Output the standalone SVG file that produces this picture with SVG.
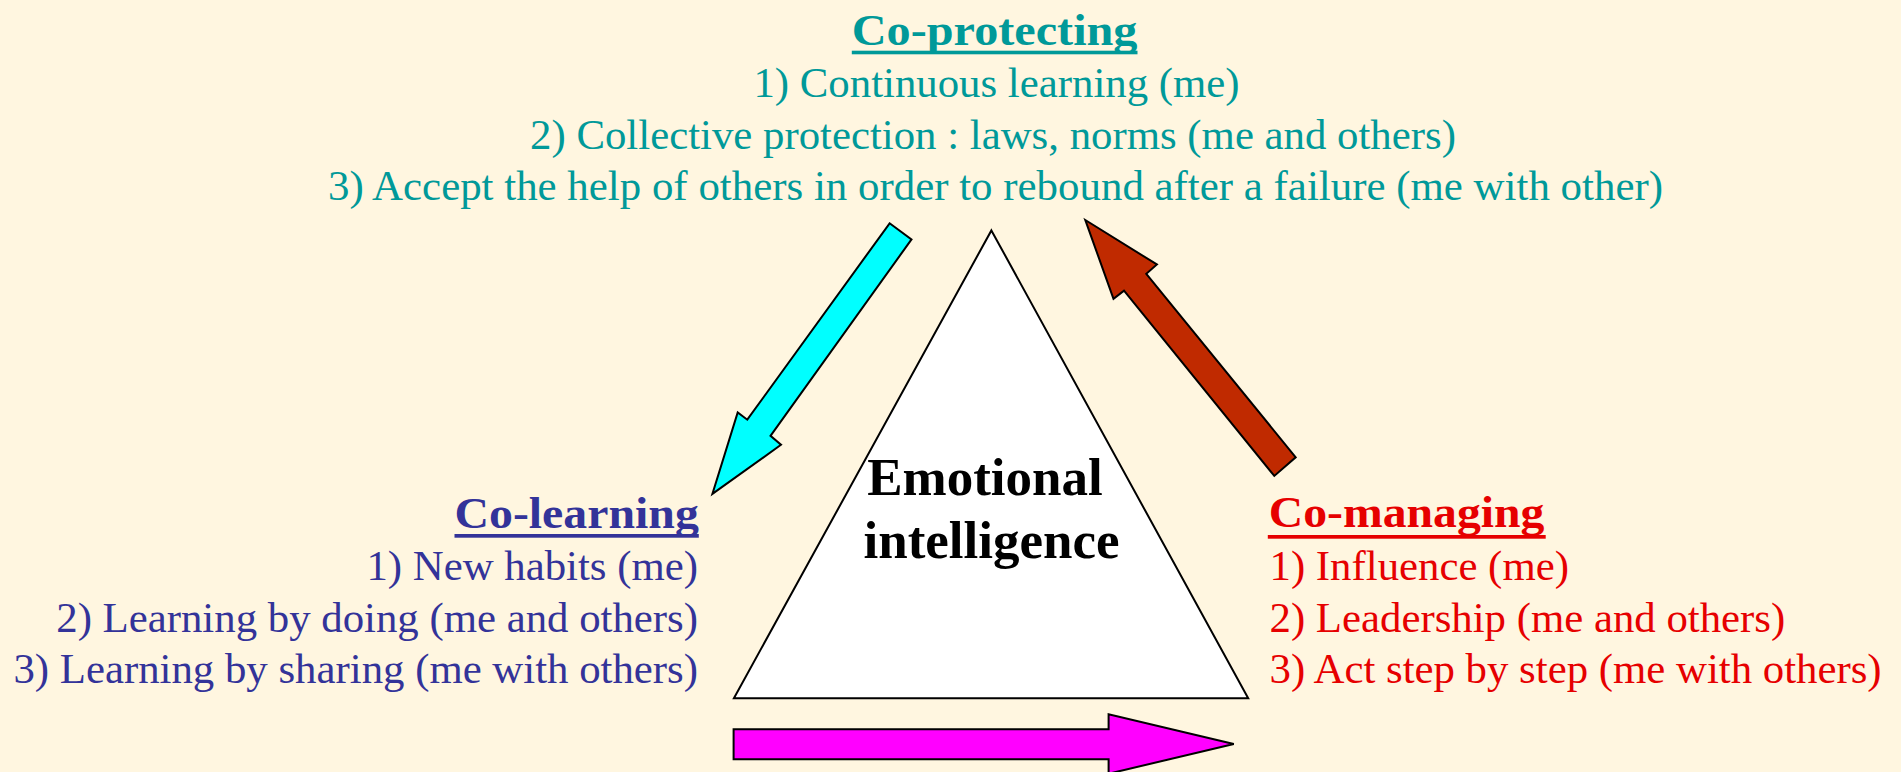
<svg xmlns="http://www.w3.org/2000/svg" width="1901" height="772" viewBox="0 0 1901 772">
<style>
.t{font-family:"Liberation Serif","Times New Roman",serif;font-size:42.8px}
.h{font-family:"Liberation Serif","Times New Roman",serif;font-size:44px;font-weight:bold}
.teal{fill:#009999}.blue{fill:#333399}.red{fill:#E60000}
.arr{stroke:#000;stroke-width:2;stroke-linejoin:miter}
</style>
<rect x="0" y="0" width="1901" height="772" fill="#FFF6E0"/>
<g id="connectors">
<polygon class="arr" fill="#00FFFF" points="889.6,223.3 911.5,239.4 770.5,435.8 781,444.8 712.4,493.9 737.7,412.5 747.3,419.7"/>
<polygon class="arr" fill="#C02A00" points="1085.3,220 1156.9,264.5 1146.3,273.8 1295.7,457.3 1274.3,475.9 1124,290.6 1113.5,298.9"/>
<polygon class="arr" fill="#FF00FF" points="733.6,729.3 1108.6,729.3 1108.6,714.3 1233.8,744 1108.6,773.7 1108.6,759.3 733.6,759.3"/>
</g>
<g id="emotional-intelligence">
<polygon points="991.4,230.4 1248.2,698.2 733.9,698.2" fill="#FFFFFF" stroke="#000" stroke-width="2"/>
<text x="985" y="495" text-anchor="middle" font-family="Liberation Serif,'Times New Roman',serif" font-size="53" font-weight="bold" fill="#000">Emotional</text>
<text x="991.5" y="558.4" text-anchor="middle" font-family="Liberation Serif,'Times New Roman',serif" font-size="53" font-weight="bold" fill="#000">intelligence</text>
</g>
<g id="co-protecting">
<text class="h teal" x="851.8" y="45" textLength="285.7" lengthAdjust="spacingAndGlyphs">Co-protecting</text>
<rect x="851.8" y="50.7" width="285.7" height="3.6" fill="#009999"/>
<text class="t teal" x="996.5" y="97.3" text-anchor="middle">1) Continuous learning (me)</text>
<text class="t teal" x="993" y="148.5" text-anchor="middle">2) Collective protection : laws, norms (me and others)</text>
<text class="t teal" x="328" y="199.5" textLength="1335" lengthAdjust="spacingAndGlyphs">3) Accept the help of others in order to rebound after a failure (me with other)</text>
</g>
<g id="co-learning">
<text class="h blue" x="698.8" y="528.3" text-anchor="end" textLength="244.3" lengthAdjust="spacingAndGlyphs">Co-learning</text>
<rect x="454.5" y="534" width="244.3" height="3.7" fill="#333399"/>
<text class="t blue" x="698" y="580" text-anchor="end">1) New habits (me)</text>
<text class="t blue" x="698" y="631.7" text-anchor="end">2) Learning by doing (me and others)</text>
<text class="t blue" x="698" y="683.3" text-anchor="end">3) Learning by sharing (me with others)</text>
</g>
<g id="co-managing">
<text class="h red" x="1268.7" y="527.3" textLength="275.7" lengthAdjust="spacingAndGlyphs">Co-managing</text>
<rect x="1267.8" y="535" width="277.9" height="3.7" fill="#E60000"/>
<text class="t red" x="1269.5" y="580">1) Influence (me)</text>
<text class="t red" x="1269.5" y="631.7">2) Leadership (me and others)</text>
<text class="t red" x="1269.5" y="683.3">3) Act step by step (me with others)</text>
</g>
</svg>
